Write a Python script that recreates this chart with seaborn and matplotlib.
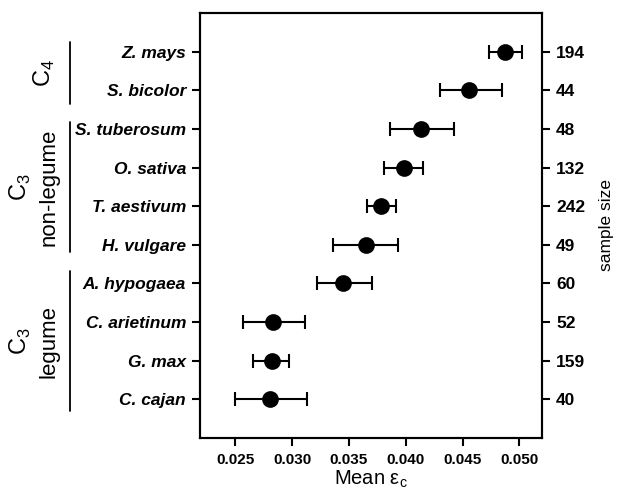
import pandas as pd
import seaborn as sns
import matplotlib
matplotlib.use('Agg')
from matplotlib import pyplot as plt
import matplotlib.transforms as mtransforms

species = ['Z. mays', 'S. bicolor', 'S. tuberosum', 'O. sativa', 'T. aestivum',
           'H. vulgare', 'A. hypogaea', 'C. arietinum', 'G. max', 'C. cajan']
mean_eps = [0.0487, 0.0456, 0.0413, 0.0398, 0.0378, 0.0365, 0.0345, 0.0283, 0.0282, 0.0281]
err_low = [0.0473, 0.0430, 0.0386, 0.0381, 0.0366, 0.0336, 0.0322, 0.0257, 0.0266, 0.0250]
err_high = [0.0502, 0.0485, 0.0442, 0.0415, 0.0391, 0.0393, 0.0370, 0.0311, 0.0297, 0.0313]
sample_size = [194, 44, 48, 132, 242, 49, 60, 52, 159, 40]

df = pd.DataFrame({'species': species, 'mean': mean_eps, 'lo': err_low, 'hi': err_high})

sns.set_style('ticks')
plt.rcParams['font.family'] = ['Liberation Sans', 'DejaVu Sans']
plt.rcParams['mathtext.fontset'] = 'custom'
plt.rcParams['mathtext.rm'] = 'Liberation Sans'
plt.rcParams['text.color'] = 'black'
plt.rcParams['axes.labelcolor'] = 'black'
plt.rcParams['xtick.color'] = 'black'
plt.rcParams['ytick.color'] = 'black'

fig = plt.figure(figsize=(6.19, 4.91), dpi=100)
ax = fig.add_axes([0.323, 0.108, 0.553, 0.8655])

# error bars first, then the dots on top
ypos = list(range(len(df)))
ax.errorbar(df['mean'], ypos, xerr=[df['mean'] - df['lo'], df['hi'] - df['mean']],
            fmt='none', ecolor='black', elinewidth=1.5, capsize=5, capthick=1.5, zorder=2)
sns.pointplot(data=df, x='mean', y='species', order=species, errorbar=None,
              linestyle='none', color='black', markersize=10, ax=ax, zorder=3)

ax.set_xlim(0.0219, 0.0520)
ax.set_ylim(10.0, -1.0)
ax.set_xticks([0.025, 0.030, 0.035, 0.040, 0.045, 0.050])
ax.set_xticklabels(['0.025', '0.030', '0.035', '0.040', '0.045', '0.050'],
                   fontsize=11, fontweight='bold')
ax.set_yticks(ypos)
ax.set_yticklabels(species, fontsize=12.5, fontweight='bold', fontstyle='italic')
ax.set_ylabel('')
ax.set_xlabel('Mean ε$_\\mathregular{c}$', fontsize=14.5, labelpad=1)
ax.tick_params(axis='both', direction='out', length=6, width=1.5)
ax.tick_params(axis='x', pad=5)
ax.tick_params(axis='y', pad=4)
for s in ax.spines.values():
    s.set_linewidth(1.5)
    s.set_color('black')

# right axis with sample sizes
ax2 = ax.twinx()
ax2.set_ylim(10.0, -1.0)
ax2.set_yticks(ypos)
ax2.set_yticklabels([str(n) for n in sample_size], fontsize=12.5, fontweight='bold')
ax2.tick_params(axis='y', direction='out', length=6, width=1.5, pad=4)
ax2.set_ylabel('sample size', fontsize=12.5, labelpad=10)
for s in ax2.spines.values():
    s.set_linewidth(1.5)
    s.set_color('black')

# group brackets on the left
trans = mtransforms.blended_transform_factory(ax.transAxes, ax.transData)
groups = [
    (-0.26, 1.35, ['C$_4$'], [-0.455]),
    (1.82, 5.19, ['C$_3$', 'non-legume'], [-0.525, -0.44]),
    (5.68, 9.31, ['C$_3$', 'legume'], [-0.525, -0.44]),
]
for y0, y1, labels, xs in groups:
    ax.plot([-0.38, -0.38], [y0, y1], color='black', lw=1.3, transform=trans, clip_on=False)
    for lab, xx in zip(labels, xs):
        ax.text(xx, (y0 + y1) / 2, lab, rotation=90, ha='center', va='center',
                fontsize=17 if lab.startswith('C') else 16, transform=trans)

fig.savefig('out.png', dpi=100)
